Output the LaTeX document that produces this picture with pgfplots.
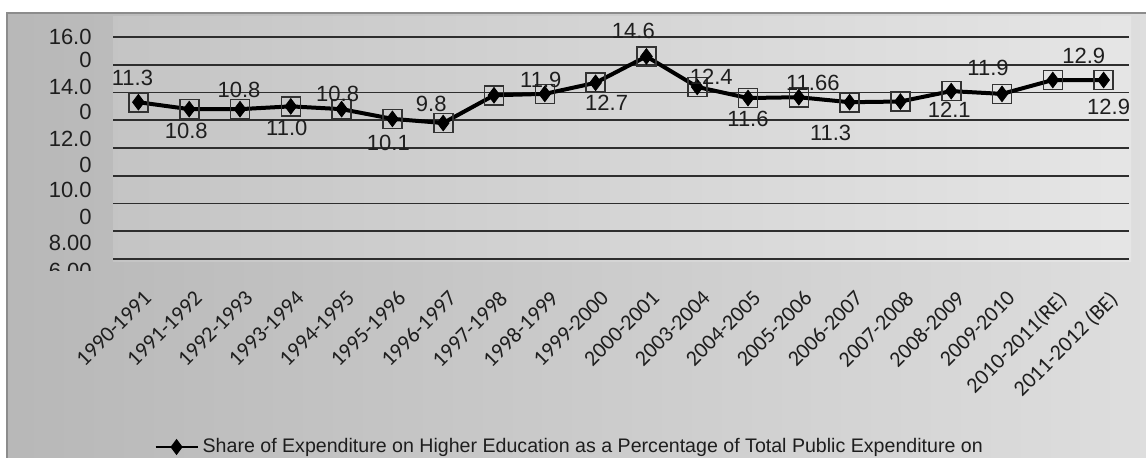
\documentclass[border=0pt]{standalone}
\usepackage{fontspec}
\setmainfont{Liberation Sans}
\newfontfamily\calibri{Carlito}
\usepackage{pgfplots}
\usepackage{pgfplotstable}
\pgfplotsset{compat=1.18}

\definecolor{gridc}{HTML}{2E2E2E}
\definecolor{txt}{HTML}{1E1E1E}

% share of higher education in total public expenditure on education (%)
\pgfplotstableread{
x y
0 11.3
1 10.8
2 10.8
3 11.0
4 10.8
5 10.1
6 9.8
7 11.8
8 11.9
9 12.7
10 14.6
11 12.4
12 11.6
13 11.66
14 11.3
15 11.35
16 12.1
17 11.9
18 12.9
19 12.9
}\sharedata

% value labels with their offsets (pt) from the marker
\pgfplotstableread{
x y lab dx dy
0 11.3 11.3 -3 12
1 10.8 10.8 -1.5 -11
2 10.8 10.8 -0.5 9.5
3 11.0 11.0 -2 -11
4 10.8 10.8 -2 7.5
5 10.1 10.1 -2 -12
6 9.8 9.8 -6 9.5
8 11.9 11.9 -2 7
9 12.7 12.7 5.5 -10
10 14.6 14.6 -6.5 12.5
11 12.4 12.4 7 5
12 11.6 11.6 0 -10.5
13 11.66 11.66 7 7
14 11.3 11.3 -9.5 -15.5
16 12.1 12.1 -1 -9.5
17 11.9 11.9 -7 13
18 12.9 12.9 15.5 12
19 12.9 12.9 2.5 -13.5
}\labeldata

\begin{document}
\begin{tikzpicture}
% page: 1146 x 458 px at 0.5pt per px
\path[use as bounding box] (0,0) rectangle (573pt,-229pt);
\begin{scope}[x=0.5pt,y=-0.5pt]
  \fill[white] (0,0) rectangle (1146,458);
  \shade[left color=black!28, right color=black!13] (7,13) rectangle (1150,470);
  \draw[black!45, line width=0.8pt] (7,475) -- (7,13) -- (1150,13);
  \shade[left color=black!23, right color=black!10] (113,17) rectangle (1131,262);
\end{scope}
% y labels as laid out in the chart (two lines each)
\begin{scope}[x=0.5pt,y=-0.5pt]
  \clip (0,0) rectangle (1146,271);
  \node[anchor=east, inner sep=0pt, text=txt, font=\fontsize{11}{13}\selectfont] at (92,271) {6.00};
\end{scope}
\begin{axis}[
  at={(56.5pt,-129.5pt)}, anchor=south west,
  scale only axis, width=508pt, height=111pt,
  xmin=-0.5, xmax=19.5, ymin=0, ymax=16,
  clip=false,
  axis line style={draw=none},
  major tick length=0pt,
  xtick={0,...,19},
  xticklabels={1990-1991,1991-1992,1992-1993,1993-1994,1994-1995,1995-1996,1996-1997,1997-1998,1998-1999,1999-2000,2000-2001,2003-2004,2004-2005,2005-2006,2006-2007,2007-2008,2008-2009,2009-2010,2010-2011(RE),2011-2012 (BE)},
  xticklabel style={xshift=2pt, yshift=-15pt, rotate=45, anchor=north east, inner sep=0pt,
    font=\calibri\fontsize{11}{13}\selectfont, text=txt},
  ytick={0,2,...,16}, yticklabels={},
  ymajorgrids,
  grid style={gridc, line width=0.9pt},
  extra y ticks={16,14.34,12.40,10.59,8.65,6.78,4.97,3.03,1.15},
  extra y tick labels={16.0,0,14.0,0,12.0,0,10.0,0,8.00},
  extra y tick style={grid=none, major tick length=0pt,
    yticklabel style={anchor=east, inner sep=0pt, xshift=-10.5pt,
      font=\fontsize{11}{13}\selectfont, text=txt}},
  legend style={at={(axis description cs:0.0404,-0.847)}, anchor=west,
    draw=none, fill=none, inner sep=0pt, font=\fontsize{9.8}{11}\selectfont, text=txt},
  legend cell align=left,
]
\addplot[black, line width=2pt, mark=diamond*, mark size=3.9pt,
  mark options={solid, fill=black, line width=0.4pt},
  legend image code/.code={
    \draw[black, line width=1.1pt] (0pt,0pt) -- (21pt,0pt);
    \fill[black] (10.5pt,2.4pt) -- (12.3pt,0pt) -- (10.5pt,-2.4pt) -- (8.7pt,0pt) -- cycle;
  }]
  table[x=x, y=y] {\sharedata};
\addlegendentry{Share of Expenditure on Higher Education as a Percentage of Total Public Expenditure on}
\addplot[forget plot, only marks, mark=square, mark size=4.75pt,
  mark options={draw=black!80, line width=0.8pt}]
  table[x=x, y=y] {\sharedata};
\addplot[forget plot, draw=none, mark=none,
  nodes near coords, point meta=explicit symbolic,
  nodes near coords align={center},
  visualization depends on={\thisrow{dx} \as \ldx},
  visualization depends on={\thisrow{dy} \as \ldy},
  nodes near coords style={anchor=center, xshift=\ldx pt, yshift=\ldy pt,
    inner sep=0pt, font=\fontsize{11}{13}\selectfont, text=txt}]
  table[x=x, y=y, meta=lab] {\labeldata};
\end{axis}
\end{tikzpicture}
\end{document}
